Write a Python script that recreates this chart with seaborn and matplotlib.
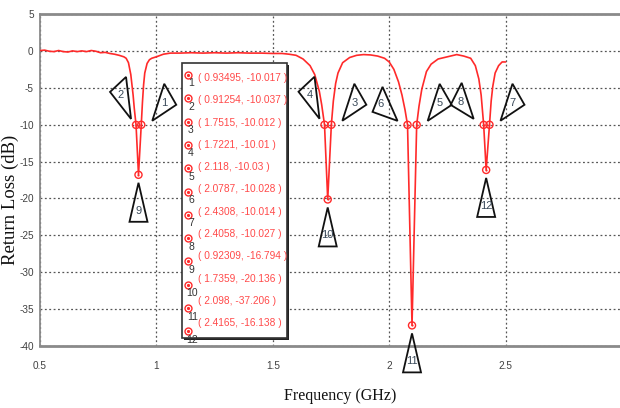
import matplotlib
matplotlib.use("Agg")
import matplotlib.pyplot as plt
import matplotlib.transforms as mtransforms
from matplotlib.patches import Polygon, Rectangle
import pandas as pd
import seaborn as sns

# ---------------- data ----------------
freq = [0.50, 0.52, 0.54, 0.56, 0.58, 0.60, 0.62, 0.64, 0.66, 0.68, 0.70, 0.72, 0.74,
        0.76, 0.78, 0.80, 0.82, 0.84, 0.86, 0.87, 0.88, 0.89, 0.90, 0.905, 0.91254,
        0.92309, 0.93495, 0.94, 0.945, 0.95, 0.96, 0.97, 0.98, 1.00, 1.03, 1.06, 1.10,
        1.15, 1.20, 1.25, 1.30, 1.35, 1.40, 1.45, 1.50, 1.54, 1.57, 1.60, 1.63, 1.66,
        1.68, 1.70, 1.71, 1.7221, 1.7359, 1.7515, 1.76, 1.77, 1.78, 1.80, 1.83, 1.86,
        1.89, 1.92, 1.95, 1.98, 2.00, 2.02, 2.04, 2.055, 2.068, 2.0787, 2.098, 2.118,
        2.128, 2.14, 2.16, 2.18, 2.21, 2.25, 2.29, 2.32, 2.35, 2.37, 2.385, 2.395,
        2.4058, 2.4165, 2.4308, 2.438, 2.445, 2.455, 2.47, 2.485, 2.50]
return_loss = [0.05, 0.1, -0.05, -0.1, 0.05, -0.1, -0.15, 0.0, -0.1, 0.0, -0.1, 0.05, -0.05,
               -0.25, -0.2, -0.35, -0.45, -0.6, -0.8, -1.0, -1.6, -3.2, -6.0, -7.8, -10.037,
               -16.794, -10.017, -7.0, -4.6, -3.0, -1.7, -1.2, -1.0, -0.8, -0.45, -0.3, -0.3,
               -0.25, -0.3, -0.25, -0.3, -0.25, -0.3, -0.3, -0.35, -0.35, -0.45, -0.6, -1.1, -2.0,
               -3.2, -5.5, -7.3, -10.01, -20.136, -10.012, -6.8, -4.4, -3.0, -1.6, -0.9, -0.6,
               -0.5, -0.55, -0.7, -1.0, -1.5, -2.5, -4.2, -6.0, -8.0, -10.028, -37.206, -10.03,
               -7.5, -5.2, -2.8, -1.8, -1.1, -0.8, -0.5, -0.7, -1.0, -2.0, -3.8, -6.0,
               -10.027, -16.138, -10.014, -6.8, -4.8, -3.0, -2.0, -1.5, -1.5]

marker_ids = [1, 2, 3, 4, 5, 6, 7, 8, 9, 10, 11, 12]
marker_freq = [0.93495, 0.91254, 1.7515, 1.7221, 2.118, 2.0787, 2.4308, 2.4058,
               0.92309, 1.7359, 2.098, 2.4165]
marker_rl = [-10.017, -10.037, -10.012, -10.01, -10.03, -10.028, -10.014, -10.027,
             -16.794, -20.136, -37.206, -16.138]

x_ticks = [0.5, 1, 1.5, 2, 2.5, 3]
x_tick_labels = ["0.5", "1", "1.5", "2", "2.5", "3"]
y_ticks = [5, 0, -5, -10, -15, -20, -25, -30, -35, -40]
y_tick_labels = ["5", "0", "-5", "-10", "-15", "-20", "-25", "-30", "-35", "-40"]

x_label = "Frequency (GHz)"
y_label = "Return Loss (dB)"

# ---------------- style ----------------
sns.set_style("white")
sans = ["Liberation Sans", "DejaVu Sans"]
serif = ["Liberation Serif", "DejaVu Serif"]
plt.rcParams["font.family"] = sans

RED = "#ff2a2a"
W, H = 620, 408
fig = plt.figure(figsize=(W / 100, H / 100), dpi=100)
ax = fig.add_axes([40 / W, (H - 346) / H, 582 / W, (346 - 14) / H])

curve = pd.DataFrame({"freq": freq, "rl": return_loss})
sns.lineplot(data=curve, x="freq", y="rl", ax=ax, color=RED, lw=1.2, sort=False, zorder=3)

markers = pd.DataFrame({"id": marker_ids, "freq": marker_freq, "rl": marker_rl})
sns.scatterplot(data=markers, x="freq", y="rl", ax=ax, marker="o", s=26,
                facecolor="none", edgecolor=RED, linewidth=1.0, zorder=4)
sns.scatterplot(data=markers, x="freq", y="rl", ax=ax, marker="o", s=2.5,
                color=RED, linewidth=0, zorder=4)

ax.set_xlim(0.5, 3)
ax.set_ylim(-40, 5)
ax.set_xticks(x_ticks)
ax.set_xticklabels(x_tick_labels)
ax.set_yticks(y_ticks)
ax.set_yticklabels(y_tick_labels)
ax.tick_params(axis="both", labelsize=7.2, labelcolor="#404040", color="#808080",
               length=3, width=1, direction="out")
ax.tick_params(axis="x", pad=8)
ax.tick_params(axis="y", pad=1.5)
ax.grid(True, linestyle=(0, (1.5, 2.0)), color="#555555", lw=0.9)
for side in ["top", "bottom", "left"]:
    ax.spines[side].set_color("#8a8a8a")
    ax.spines[side].set_linewidth(2.0)
ax.spines["left"].set_linewidth(1.3)
ax.spines["right"].set_visible(False)
ax.set_xlabel("")
ax.set_ylabel("")

fig.text(10 / W, 1 - 200 / H, y_label, rotation=90, ha="center", va="center",
         fontsize=13.5, family=serif, color="#111111")
fig.text(340 / W, 1 - 396 / H, x_label, ha="center", va="center",
         fontsize=11.5, family=serif, color="#111111")

# ---------------- callout triangles (pixel offsets from marker, y down) ----------------
shape_up_right = ([(11, -4), (23, -41), (35, -20)], (23, -22))
shape_up_left = ([(-5, -6), (-26, -33), (-10, -48)], (-15, -30))
shape_six = ([(-10, -4), (-35, -13), (-25, -38)], (-27, -21))
shape_eight = ([(-10, -6), (-33, -20), (-22, -42)], (-23, -23))
shape_down = ([(0, 8), (-9, 47), (9, 47)], (0, 36))
callouts = {1: shape_up_right, 2: shape_up_left, 3: shape_up_right, 4: shape_up_left,
            5: shape_up_right, 6: shape_six, 7: shape_up_right, 8: shape_eight,
            9: shape_down, 10: shape_down, 11: shape_down, 12: shape_down}

for mid, f, v in zip(marker_ids, marker_freq, marker_rl):
    verts, lab = callouts[mid]
    trans = fig.dpi_scale_trans + mtransforms.ScaledTranslation(f, v, ax.transData)
    pts = [(dx / 100, -dy / 100) for dx, dy in verts]
    ax.add_patch(Polygon(pts, closed=True, fill=False, ec="#111111", lw=1.3,
                         transform=trans, clip_on=False, zorder=5))
    ax.text(lab[0] / 100, -lab[1] / 100, str(mid), transform=trans, ha="center",
            va="center", fontsize=8, color="#3a4a5a", zorder=6, clip_on=False)

# ---------------- marker table box ----------------
pix = fig.dpi_scale_trans
def P(x, y):
    return (x / 100, (H - y) / 100)

bx0, by0, bx1, by1 = 182, 63, 287, 338
shadow = Rectangle(P(bx0 + 2, by1 + 2), (bx1 - bx0) / 100, (by1 - by0) / 100,
                   transform=pix, fc="#222222", ec="none", zorder=7, clip_on=False)
box = Rectangle(P(bx0, by1), (bx1 - bx0) / 100, (by1 - by0) / 100,
                transform=pix, fc="white", ec="#333333", lw=1.2, zorder=8, clip_on=False)
ax.add_artist(shadow)
ax.add_artist(box)

for i, (mid, f, v) in enumerate(zip(marker_ids, marker_freq, marker_rl)):
    ym = 75 + 23.3 * i
    yt = 78 + 22.3 * i
    ax.plot([P(188, ym)[0]], [P(188, ym)[1]], transform=pix, marker="o", ms=5,
            mfc="none", mec=RED, mew=1.0, ls="none", zorder=9, clip_on=False)
    ax.plot([P(188, ym)[0]], [P(188, ym)[1]], transform=pix, marker="o", ms=1.3,
            mfc=RED, mec=RED, ls="none", zorder=9, clip_on=False)
    ax.text(*P(191 if mid < 10 else 192.5, ym + 8.5), str(mid), transform=pix,
            ha="center", va="center", fontsize=7.5, color="#333333", zorder=9)
    ax.text(*P(198, yt), f"( {f}, {v} )", transform=pix, ha="left",
            va="center", fontsize=7.3, color="#ff4a4a", zorder=9)

fig.savefig("out.png", dpi=100)
